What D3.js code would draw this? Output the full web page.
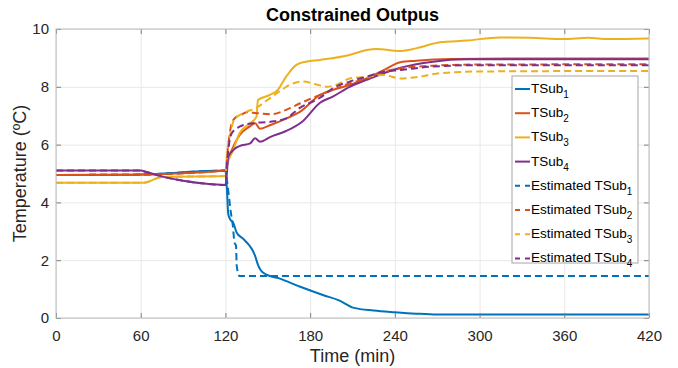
<!DOCTYPE html>
<html>
<head>
<meta charset="utf-8">
<script src="https://cdn.jsdelivr.net/npm/d3@7"></script>
<style>
  body { margin: 0; background: #fff; }
  svg { font-family: "Liberation Sans", Arial, Helvetica, sans-serif; }
  .grid line { stroke: #e8e8e8; }
  .grid path { display: none; }
  .ax path { display: none; }
  .ax line { stroke: #808080; }
  .ax text { fill: #262626; font-size: 15px; }
</style>
</head>
<body>
<svg width="678" height="368"></svg>
<script>
const xTicks = [0, 60, 120, 180, 240, 300, 360, 420];
const yTicks = [0, 2, 4, 6, 8, 10];

// [time (min), temperature (C)]
const tSub1 = [[0,4.95],[55,4.96],[120,5.1],[121,4.5],[122,3.6],[123.5,3.4],[125.5,3.3],[128,2.95],[133,2.72],[141,2.15],[143,1.85],[145,1.65],[149,1.5],[158,1.37],[173,1.08],[190,0.78],[200,0.62],[211,0.35],[225,0.26],[240,0.2],[255,0.15],[270,0.12],[420,0.12]];
const tSub2 = [[0,4.95],[55,4.96],[120,5.1],[122,5.5],[124.5,5.81],[130,6.33],[137,6.62],[141,6.74],[144.5,6.55],[152,6.68],[163,6.9],[173,7.14],[187,7.72],[196,7.89],[208,8.06],[220,8.29],[232,8.58],[244,8.85],[255,8.9],[280,8.96],[320,8.98],[420,8.98]];
const tSub3 = [[0,4.68],[62,4.68],[75,4.88],[120,4.91],[121,5.24],[125.5,5.81],[130,6.39],[137.5,6.74],[142,6.97],[143,7.54],[151.5,7.72],[157,7.89],[163,8.35],[170,8.75],[177,8.87],[187,8.93],[208,9.1],[220,9.27],[227,9.31],[243.5,9.24],[255,9.33],[272,9.54],[291,9.6],[314,9.71],[336,9.7],[359,9.65],[377,9.7],[391,9.65],[420,9.67]];
const tSub4 = [[0,5.1],[60,5.1],[64,5.05],[75,4.9],[90,4.75],[105,4.65],[120,4.6],[121,5.0],[122,5.58],[125.5,5.81],[130,5.95],[137.5,6.04],[141,6.22],[144.5,6.1],[152,6.27],[163,6.47],[175,6.82],[187,7.45],[196,7.66],[208,8.0],[220,8.24],[232,8.47],[244,8.66],[267,8.87],[291,8.95],[420,8.95]];
const estTSub1 = [[0,4.95],[55,4.96],[120,5.1],[121.5,4.6],[124,3.6],[125,3.3],[126.5,2.6],[127.5,2.5],[128,1.8],[130,1.45],[420,1.45]];
const estTSub2 = [[0,4.95],[55,4.96],[120,5.1],[122,6.0],[124.5,6.74],[128,6.97],[130,7.0],[135,7.12],[144,7.08],[152,7.05],[163,7.2],[173,7.43],[187,7.72],[196,7.89],[208,8.12],[220,8.29],[232,8.52],[244,8.64],[267,8.73],[300,8.77],[420,8.78]];
const estTSub3 = [[0,4.68],[62,4.68],[75,4.88],[120,4.91],[121,5.6],[124,6.5],[126,6.85],[130,7.02],[135,7.14],[141,7.25],[150,7.55],[160,7.9],[167,8.1],[175,8.18],[183,8.1],[192,8.0],[200,8.1],[208,8.29],[220,8.35],[232,8.41],[244,8.29],[255,8.33],[272,8.47],[300,8.53],[420,8.55]];
const estTSub4 = [[0,5.1],[60,5.1],[64,5.05],[75,4.9],[90,4.75],[105,4.65],[120,4.6],[121,5.3],[122.5,6.0],[124.5,6.39],[130,6.62],[139,6.74],[152,6.79],[163,6.91],[173,7.28],[187,7.62],[196,7.95],[208,8.18],[220,8.35],[232,8.52],[244,8.58],[267,8.7],[300,8.75],[420,8.75]];

const colors = ['#0072BD', '#D95319', '#EDB120', '#7E2F8E'];

const series = [
  { base: 'TSub', sub: '1', data: tSub1, color: colors[0], dash: null },
  { base: 'TSub', sub: '2', data: tSub2, color: colors[1], dash: null },
  { base: 'TSub', sub: '3', data: tSub3, color: colors[2], dash: null },
  { base: 'TSub', sub: '4', data: tSub4, color: colors[3], dash: null },
  { base: 'Estimated TSub', sub: '1', data: estTSub1, color: colors[0], dash: '7,4' },
  { base: 'Estimated TSub', sub: '2', data: estTSub2, color: colors[1], dash: '7,4' },
  { base: 'Estimated TSub', sub: '3', data: estTSub3, color: colors[2], dash: '7,4' },
  { base: 'Estimated TSub', sub: '4', data: estTSub4, color: colors[3], dash: '7,4' }
];

const svg = d3.select('svg');
const margin = { top: 29, right: 29, bottom: 50, left: 56 };
const width = 678 - margin.left - margin.right;
const height = 368 - margin.top - margin.bottom;

const chart = svg.append('g')
  .attr('transform', `translate(${margin.left}, ${margin.top})`);

const xScale = d3.scaleLinear().domain([0, 420]).range([0, width]);
const yScale = d3.scaleLinear().domain([0, 10]).range([height, 0]);

// grid
chart.append('g')
  .attr('class', 'grid')
  .attr('transform', `translate(0, ${height})`)
  .call(d3.axisBottom(xScale).tickValues(xTicks).tickSize(-height).tickFormat(''));
chart.append('g')
  .attr('class', 'grid')
  .call(d3.axisLeft(yScale).tickValues(yTicks).tickSize(-width).tickFormat(''));

// lines
const line = d3.line()
  .x(d => xScale(d[0]))
  .y(d => yScale(d[1]))
  .curve(d3.curveMonotoneX);

chart.selectAll('.series')
  .data(series)
  .enter()
  .append('path')
  .attr('class', 'series')
  .attr('fill', 'none')
  .attr('stroke', d => d.color)
  .attr('stroke-width', 2)
  .attr('stroke-dasharray', d => d.dash)
  .attr('d', d => line(d.data));

// axes (ticks pointing inward)
const xAxis = chart.append('g')
  .attr('class', 'ax')
  .attr('transform', `translate(0, ${height})`)
  .call(d3.axisBottom(xScale).tickValues(xTicks).tickSizeInner(-5).tickSizeOuter(0).tickPadding(9));
xAxis.selectAll('text').attr('dy', '0.95em');

chart.append('g')
  .attr('class', 'ax')
  .call(d3.axisTop(xScale).tickValues(xTicks).tickSizeInner(-5).tickSizeOuter(0).tickFormat(''));

chart.append('g')
  .attr('class', 'ax')
  .call(d3.axisLeft(yScale).tickValues(yTicks).tickSizeInner(-5).tickSizeOuter(0).tickPadding(7));

chart.append('g')
  .attr('class', 'ax')
  .attr('transform', `translate(${width}, 0)`)
  .call(d3.axisRight(yScale).tickValues(yTicks).tickSizeInner(-5).tickSizeOuter(0).tickFormat(''));

chart.append('rect')
  .attr('x', 0)
  .attr('y', 0)
  .attr('width', width)
  .attr('height', height)
  .attr('fill', 'none')
  .attr('stroke', '#bcbcbc')
  .attr('stroke-width', 1);

// labels
svg.append('text')
  .attr('x', margin.left + width / 2)
  .attr('y', 21)
  .attr('text-anchor', 'middle')
  .attr('font-size', 18)
  .attr('font-weight', 'bold')
  .attr('fill', '#000')
  .text('Constrained Outpus');

svg.append('text')
  .attr('x', margin.left + width / 2)
  .attr('y', 362)
  .attr('text-anchor', 'middle')
  .attr('font-size', 18)
  .attr('fill', '#262626')
  .text('Time (min)');

svg.append('text')
  .attr('transform', `translate(26, ${margin.top + height / 2}) rotate(-90)`)
  .attr('text-anchor', 'middle')
  .attr('font-size', 18)
  .attr('fill', '#262626')
  .text('Temperature (ºC)');

// legend
const legend = svg.append('g').attr('transform', 'translate(512, 76)');
legend.append('rect')
  .attr('width', 126)
  .attr('height', 187)
  .attr('fill', '#fff')
  .attr('stroke', '#a6a6a6');

const items = legend.selectAll('.item')
  .data(series)
  .enter()
  .append('g')
  .attr('class', 'item')
  .attr('transform', (d, i) => `translate(0, ${13 + i * 24.2})`);

items.append('line')
  .attr('x1', 3)
  .attr('x2', 18)
  .attr('stroke', d => d.color)
  .attr('stroke-width', 2)
  .attr('stroke-dasharray', d => d.dash ? '5,5' : null);

const labels = items.append('text')
  .attr('x', 19)
  .attr('y', 4)
  .attr('font-size', 13.5)
  .attr('fill', '#000');
labels.append('tspan').text(d => d.base);
labels.append('tspan')
  .attr('dy', 5)
  .attr('font-size', 10)
  .text(d => d.sub);
</script>
</body>
</html>
